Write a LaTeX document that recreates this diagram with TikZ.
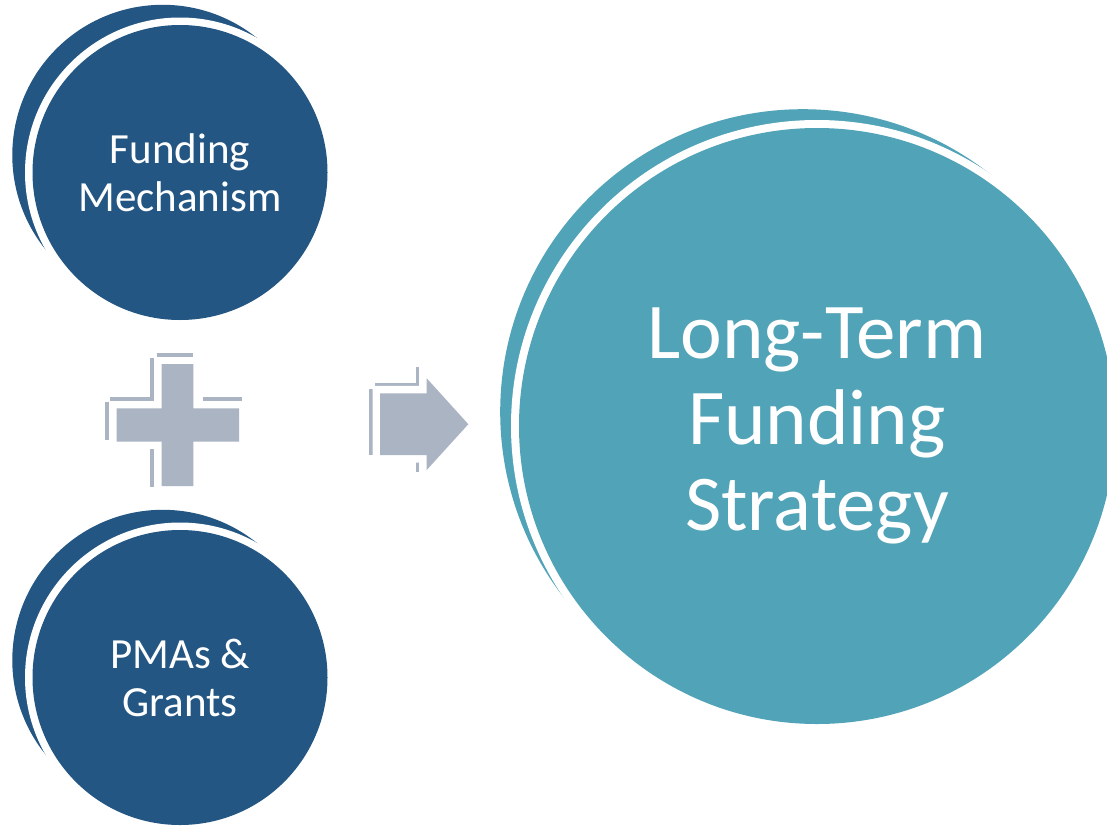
\documentclass[tikz,border=0pt]{standalone}
\usepackage{fontspec}
\setmainfont{Carlito}
\definecolor{navy}{HTML}{235682}
\definecolor{tealc}{HTML}{51A3B8}
\definecolor{symc}{HTML}{ABB4C3}
\tikzset{
  smallcirc/.style={circle, fill=navy, draw=none, inner sep=0pt, minimum size=295pt,
    text=white, align=center, font=\fontsize{43}{48}\selectfont},
  bigcirc/.style={circle, fill=tealc, draw=none, inner sep=0pt, minimum size=596pt,
    text=white, align=center, font=\fontsize{79}{86}\selectfont},
  strip/.style={draw=symc, line width=3.5pt},
  symfront/.style={fill=symc, draw=white, line width=15pt, line join=miter}
}
\begin{document}
\begin{tikzpicture}[x=1pt,y=-1pt]
\clip (0,0) rectangle (1107,827);
\fill[white] (0,0) rectangle (1107,827);
% centres
\coordinate (c1) at (180,172.5);
\coordinate (c2) at (180,677.5);
\coordinate (c3) at (817,426);
% crescents
\fill[navy] ([shift={(-17.3,-17.3)}]c1) circle[radius=150.4pt];
\fill[white] (c1) circle[radius=155pt];
\fill[navy] ([shift={(-17.3,-17.3)}]c2) circle[radius=150.4pt];
\fill[white] (c2) circle[radius=155pt];
\fill[tealc] ([shift={(-14.1,-14.1)}]c3) circle[radius=302.7pt];
\fill[white] (c3) circle[radius=306pt];
% main circles
\node[smallcirc] (fm) at (c1) {Funding\\Mechanism};
\node[smallcirc] (pg) at (c2) {PMAs \&\\Grants};
\node[bigcirc] (lt) at (c3) {Long-Term\\Funding\\Strategy};
% plus sign
\draw[strip] (156.7,355) -- (193.3,355);
\draw[strip] (152.2,358.3) -- (152.2,403.3);
\draw[strip] (110,399) -- (150,399);
\draw[strip] (107,401.7) -- (107,440);
\draw[strip] (203.3,399) -- (241.7,399);
\draw[strip] (152.2,448.3) -- (152.2,486.7);
\filldraw[symfront] (161.7,364) -- (193.3,364) -- (193.3,408.3) -- (239,408.3) -- (239,441.7)
  -- (193.3,441.7) -- (193.3,486) -- (161.7,486) -- (161.7,441.7) -- (116.7,441.7)
  -- (116.7,408.3) -- (161.7,408.3) -- cycle;
\fill[symc] (161.7,364) -- (193.3,364) -- (193.3,408.3) -- (239,408.3) -- (239,441.7)
  -- (193.3,441.7) -- (193.3,486) -- (161.7,486) -- (161.7,441.7) -- (116.7,441.7)
  -- (116.7,408.3) -- (161.7,408.3) -- cycle;
% arrow
\draw[strip] (375,385) -- (425,385);
\draw[strip] (371.2,389.3) -- (371.2,455);
\draw[strip] (418,367) -- (418,386);
\draw[strip] (418,462) -- (418,472);
\filldraw[symfront] (380,393.3) -- (426.7,393.3) -- (426.7,378.3) -- (468.3,424.2)
  -- (426.7,470) -- (426.7,455) -- (380,455) -- cycle;
\fill[symc] (380,393.3) -- (426.7,393.3) -- (426.7,378.3) -- (468.3,424.2)
  -- (426.7,470) -- (426.7,455) -- (380,455) -- cycle;
\end{tikzpicture}
\end{document}
